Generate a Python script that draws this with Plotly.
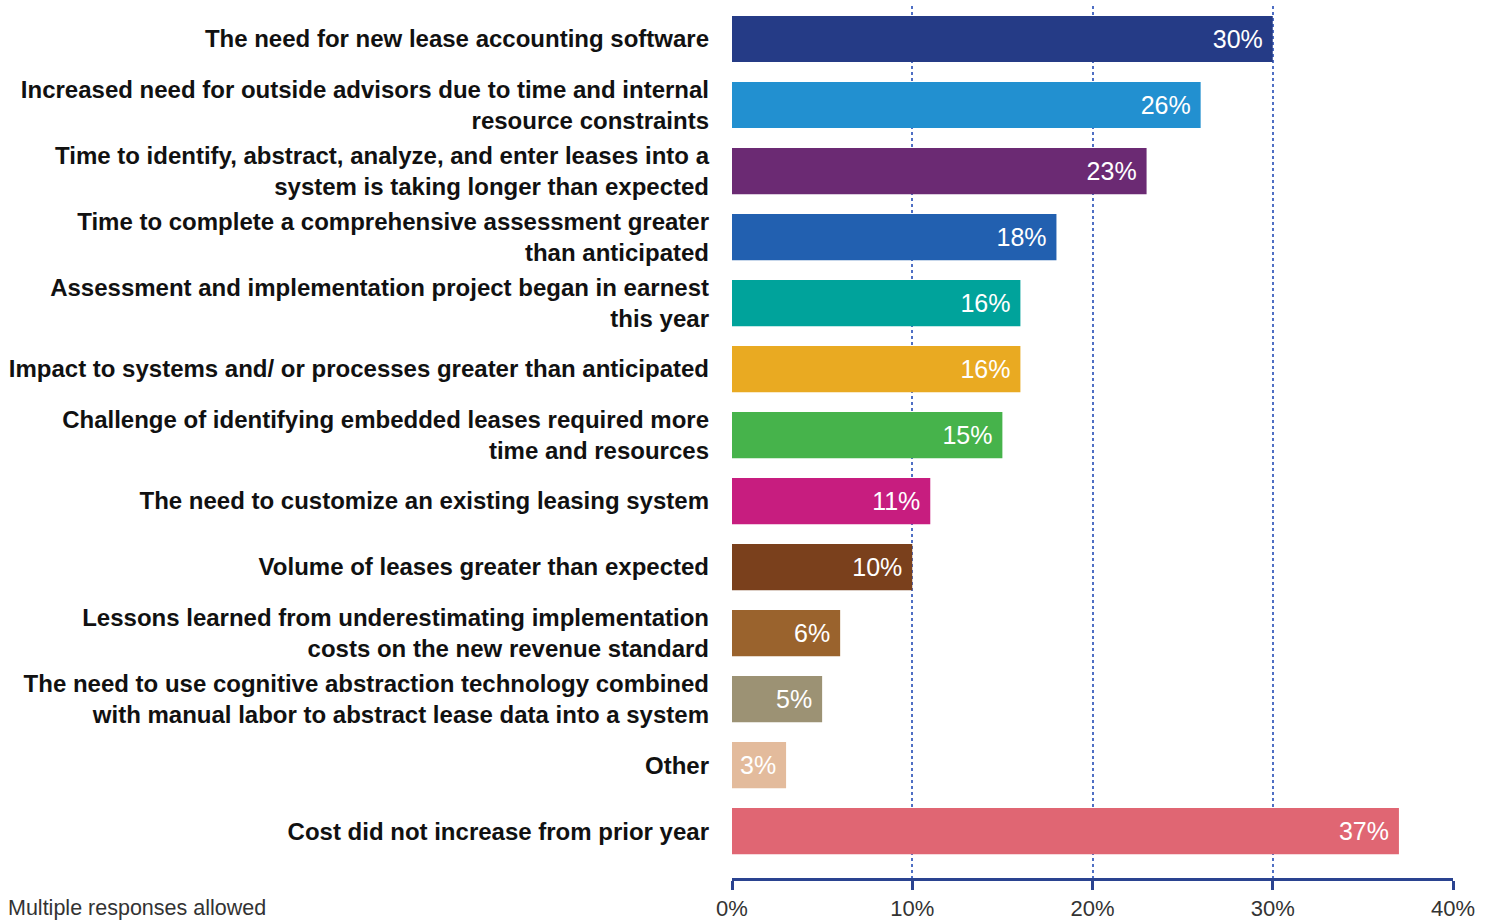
import plotly.graph_objects as go

# Survey responses: drivers of increased lease-accounting cost
categories = [
    "The need for new lease accounting software",
    "Increased need for outside advisors due to time and internal<br>resource constraints",
    "Time to identify, abstract, analyze, and enter leases into a<br>system is taking longer than expected",
    "Time to complete a comprehensive assessment greater<br>than anticipated",
    "Assessment and implementation project began in earnest<br>this year",
    "Impact to systems and/ or processes greater than anticipated",
    "Challenge of identifying embedded leases required more<br>time and resources",
    "The need to customize an existing leasing system",
    "Volume of leases greater than expected",
    "Lessons learned from underestimating implementation<br>costs on the new revenue standard",
    "The need to use cognitive abstraction technology combined<br>with manual labor to abstract lease data into a system",
    "Other",
    "Cost did not increase from prior year",
]
values = [30, 26, 23, 18, 16, 16, 15, 11, 10, 6, 5, 3, 37]
colors = [
    "#253B86", "#2290D0", "#6B2A73", "#2260B0", "#00A39B", "#E9AA22",
    "#46B34B", "#C71D7F", "#7A401C", "#9A632D", "#9C9274", "#E3BB9C",
    "#E06673",
]
tick_vals = [0, 10, 20, 30, 40]
tick_text = ["0%", "10%", "20%", "30%", "40%"]

fig = go.Figure(
    go.Bar(
        x=values,
        y=categories,
        orientation="h",
        marker=dict(color=colors, line=dict(width=0)),
        width=0.7,
        text=[f"{v}%\u00a0" for v in values],
        textposition="inside",
        insidetextanchor="end",
        textfont=dict(family="Liberation Sans", size=25, color="white"),
        constraintext="none",
        hoverinfo="skip",
    )
)

fig.update_layout(
    width=1492,
    height=922,
    margin=dict(l=732, r=39, t=6, b=44, autoexpand=False),
    paper_bgcolor="white",
    plot_bgcolor="white",
    showlegend=False,
    bargap=0.3,
    annotations=[
        dict(
            text="Multiple responses allowed",
            xref="paper", yref="paper",
            x=0, y=0, xanchor="left", yanchor="middle",
            xshift=-726, yshift=-30,
            showarrow=False,
            font=dict(family="Liberation Sans", size=21.5, color="#333333"),
        )
    ],
)

fig.update_xaxes(
    range=[0, 40],
    tickvals=tick_vals,
    ticktext=tick_text,
    showgrid=True,
    gridcolor="#4F6FC4",
    griddash="dot",
    gridwidth=1.5,
    showline=True,
    linecolor="#2A4390",
    linewidth=3,
    ticks="outside",
    ticklen=9,
    tickwidth=2.5,
    tickcolor="#2A4390",
    tickfont=dict(family="Liberation Sans", size=22, color="#333333"),
    zeroline=False,
    automargin=False,
    fixedrange=True,
)

fig.update_yaxes(
    categoryorder="array",
    categoryarray=categories,
    range=[12.71, -0.5],
    showgrid=False,
    showline=False,
    ticks="",
    ticklabelstandoff=22,
    tickfont=dict(family="Liberation Sans", size=24, color="#111111", weight="bold"),
    automargin=False,
    fixedrange=True,
)

fig.write_html("out.html")
